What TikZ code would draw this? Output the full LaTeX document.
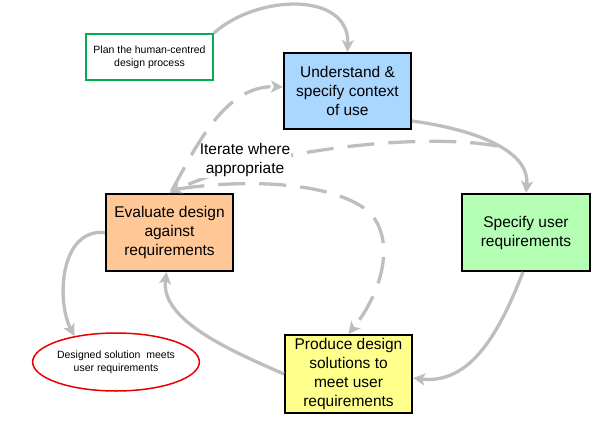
\documentclass[tikz,border=0pt]{standalone}
\usepackage{fontspec}
\setmainfont{Liberation Sans}
\usetikzlibrary{arrows.meta,shapes.geometric,calc}
\definecolor{lineg}{RGB}{190,190,190}
\definecolor{boxblue}{RGB}{170,215,255}
\definecolor{boxgreen}{RGB}{180,255,180}
\definecolor{boxorange}{RGB}{255,200,150}
\definecolor{boxyellow}{RGB}{255,255,140}
\definecolor{plangreen}{RGB}{0,176,80}
\definecolor{goalred}{RGB}{230,0,0}
\begin{document}
\begin{tikzpicture}[x=1pt,y=-1pt,
  stage/.style={draw=black,line width=2pt,minimum width=127pt,minimum height=77pt,
    inner sep=0pt,align=center,font=\fontsize{15.5}{19}\selectfont},
  smalltext/.style={font=\fontsize{10.5}{13}\selectfont,align=center,inner sep=0pt},
  flow/.style={draw=lineg,line width=3.3pt,-{Stealth[length=12pt,width=12pt,inset=3pt]}},
  iter/.style={flow,dash pattern=on 27pt off 14pt},
]
\useasboundingbox (0,0) rectangle (607,420);

% stages
\node[stage,fill=boxblue,minimum height=76pt] (blue) at (347.5,91) {Understand \&\\specify context\\of use};
\node[stage,fill=boxgreen,minimum width=128pt] (green) at (526,232.5) {Specify user\\requirements};
\node[stage,fill=boxorange] (orange) at (169.5,232.5) {Evaluate design\\against\\requirements};
\node[stage,fill=boxyellow,minimum height=78pt] (yellow) at (348.5,374) {Produce design\\solutions to\\meet user\\requirements};
\node[smalltext,draw=plangreen,line width=1.5pt,minimum width=127pt,minimum height=46pt] (plan) at (149.5,57) {Plan the human-centred\\design process};
\node[smalltext,ellipse,draw=goalred,line width=1.5pt,minimum width=134pt,minimum height=58pt] (goal) at (116,362) {Designed solution\ \ meets\\user requirements};

% solid flow
\draw[flow] (plan.north east) .. controls +(43,-39) and +(2,-61) .. (blue.north);
\draw[flow] ([yshift=9pt]blue.south east) .. controls +(59,8) and +(4,-44) .. (green.north);
\draw[flow] ([xshift=-3pt]green.south) .. controls +(-23,59) and +(58,7) .. ([yshift=-4pt]yellow.east);
\draw[flow] (yellow.west) .. controls +(-55,-24) and +(-6,48) .. ([xshift=-3pt]orange.south);
\draw[flow] (orange.west) .. controls +(-46,-4) and +(-18,-34) .. (goal.148);

% iteration
\coordinate (itstart) at (497,146);
\coordinate (turn) at (370,213);
\draw[iter] (itstart) .. controls +(-77,-14) and +(90,-43) .. (orange.north);
\draw[iter] ([xshift=8pt,yshift=4pt]orange.north) .. controls +(82,-12) and +(-30,-28) .. (turn)
  .. controls +(25,27) and +(35,-44) .. (yellow.north);
\node[fill=white,inner sep=1pt,align=center,font=\fontsize{15.5}{19}\selectfont] (iterlabel) at (245,160) {Iterate where\\appropriate};
\draw[iter] ([xshift=2pt,yshift=2pt]orange.north) .. controls +(23.5,-42) and +(-59,-2) .. ([yshift=4pt]blue.west);
\end{tikzpicture}
\end{document}
